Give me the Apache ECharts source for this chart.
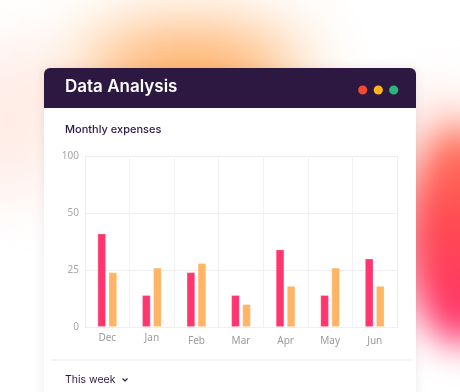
<!DOCTYPE html>
<html>
<head>
<meta charset="utf-8">
<script src="https://cdn.jsdelivr.net/npm/echarts@6/dist/echarts.min.js"></script>
<style>
html,body{margin:0;padding:0;background:#fff;overflow:hidden;}
#wrap{position:relative;width:460px;height:392px;overflow:hidden;background:#fff;}
.blob{position:absolute;border-radius:50%;}
#b1{left:80px;top:30px;width:220px;height:90px;background:#ffa04a;filter:blur(36px);opacity:.95;}
#b2{left:405px;top:125px;width:110px;height:220px;background:linear-gradient(#ff7a5e,#ff4a52 45%,#ff2f70);filter:blur(18px);}
#b3{left:-40px;top:40px;width:100px;height:160px;background:#ffdcd2;filter:blur(30px);opacity:.6;}
#b4{left:400px;top:90px;width:80px;height:80px;background:#ffd3cc;filter:blur(25px);opacity:.6;}
#chart{position:absolute;left:0;top:0;width:460px;height:392px;}
</style>
</head>
<body>
<div id="wrap">
<div class="blob" id="b3"></div>
<div class="blob" id="b4"></div>
<div class="blob" id="b1"></div>
<div class="blob" id="b2"></div>
<div id="chart"></div>
</div>
<script>
const months = ['Dec','Jan','Feb','Mar','Apr','May','Jun'];
const seriesA = [41, 14, 24, 14, 34, 14, 30];
const seriesB = [24, 26, 28, 10, 18, 26, 18];
// axis tick values (visual steps) and labels shown at them
const yTicks = [0, 25, 50, 75];
const yTickLabels = ['0', '25', '50', '100'];

const chart = echarts.init(document.getElementById('chart'), null, {renderer:'canvas'});
const txt = '#2a1a45';
const ff = '"Noto Sans", Inter, sans-serif';
chart.setOption({
  backgroundColor: 'transparent',
  animation: false,
  textStyle: {fontFamily: ff},
  graphic: [
    {type:'rect', z:-10, shape:{x:44,y:68,width:372,height:340,r:6}, style:{fill:'#fff', shadowBlur:12, shadowColor:'rgba(80,40,60,0.10)'}},
    {type:'rect', z:-9, shape:{x:44,y:68,width:372,height:40,r:[6,6,0,0]}, style:{fill:'#2d1842'}},
    {type:'text', z:-8, left:65, top:78, style:{text:'Data Analysis', fill:'#fff', font:'600 17px Inter, sans-serif'}},
    {type:'circle', z:-8, shape:{cx:362.7,cy:90,r:4.6}, style:{fill:'#f24a31'}},
    {type:'circle', z:-8, shape:{cx:378.3,cy:90,r:4.6}, style:{fill:'#fbb51d'}},
    {type:'circle', z:-8, shape:{cx:393.7,cy:90,r:4.6}, style:{fill:'#2bb57a'}},
    {type:'text', z:-8, left:65, top:124, style:{text:'Monthly expenses', fill:txt, font:'500 11px Inter, sans-serif'}},
    {type:'line', z:-8, shape:{x1:51,y1:360,x2:411,y2:360}, style:{stroke:'#f0f0f2', lineWidth:1.5}},
    {type:'text', z:-8, left:65, top:374, style:{text:'This week', fill:txt, font:'400 10.5px Inter, sans-serif'}},
    {type:'polyline', z:-8, shape:{points:[[122.5,378.5],[125,381],[127.5,378.5]]}, style:{stroke:txt, lineWidth:1.2, fill:null}}
  ],
  grid: {left:85, right:63, top:156, bottom:65},
  xAxis: {
    type:'category', data: months, boundaryGap:true,
    axisLine:{show:true, lineStyle:{color:'#efeff2'}},
    axisTick:{show:false},
    splitLine:{show:true, interval:0, lineStyle:{color:'#f2f2f4'}},
    axisLabel:{
      interval:0, color:'#9a9a9f', fontSize:10, margin:6,
      formatter: (v, i) => i < 2 ? '{a|' + v + '}' : '{b|' + v + '}',
      rich:{a:{color:'#9a9a9f', fontSize:10, padding:[0,0,3,0]}, b:{color:'#9a9a9f', fontSize:10, padding:[3,0,0,0]}}
    }
  },
  yAxis: [{
    type:'value', min:yTicks[0], max:yTicks[yTicks.length-1], interval:25,
    axisLine:{show:true, lineStyle:{color:'#ececef', type:'dashed'}},
    axisTick:{show:false},
    splitLine:{show:true, lineStyle:{color:'#eeeef1'}},
    axisLabel:{color:'#a6a6ab', fontSize:10, margin:6, formatter: v => yTickLabels[yTicks.indexOf(v)]}
  },{
    type:'value', min:yTicks[0], max:yTicks[yTicks.length-1], interval:25, position:'right',
    axisLine:{show:true, lineStyle:{color:'#ececef', type:'dashed'}},
    axisTick:{show:false}, axisLabel:{show:false}, splitLine:{show:false}
  }],
  series: [
    {type:'bar', data: seriesA, barWidth:8.5, barGap:'30%', itemStyle:{color:'#ff356f', borderColor:'rgba(255,255,255,0.35)', borderWidth:0.8}},
    {type:'bar', data: seriesB, barWidth:8.5, barGap:'30%', itemStyle:{color:'#ffb565', borderColor:'rgba(255,255,255,0.35)', borderWidth:0.8}}
  ]
});
</script>
</body>
</html>
